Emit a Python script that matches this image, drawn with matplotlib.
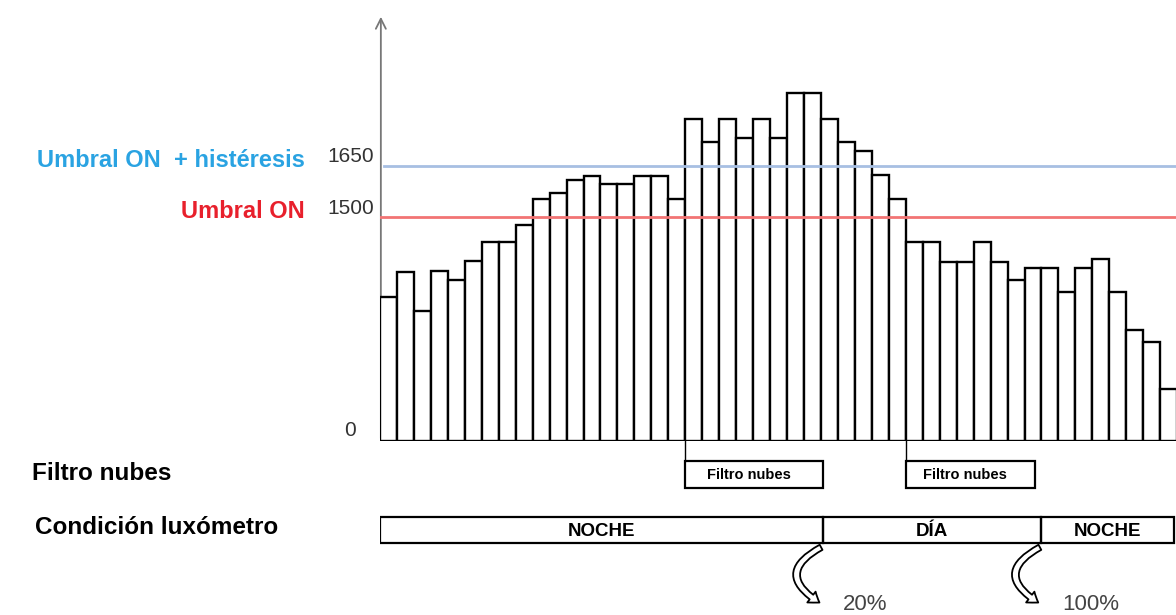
import matplotlib.pyplot as plt
from matplotlib.patches import Rectangle, FancyArrowPatch
from matplotlib.transforms import ScaledTranslation

# nivel de luz de cada muestra (altura relativa, 0 = base)
luz = [144, 169, 130, 170, 161, 180, 199, 199, 216, 242, 248, 261, 265, 257, 257, 265, 265, 242,
       322, 299, 322, 303, 322, 303, 348, 348, 322, 299, 290, 266, 242,
       199, 199, 179, 179, 199, 179, 161, 173, 173, 149, 173, 182, 149, 111, 99, 52]
umbral_on = 224
umbral_hist = 275
tick_vals = [0, umbral_on, umbral_hist]
tick_labels = ["0", "1500", "1650"]

# filtro de nubes: borde de la muestra donde empieza, y su ancho en muestras
filtro_inicio = [17.5, 30.5]
filtro_ancho = [8.1, 7.6]

# condicion del luxometro por tramos
cond_labels = ["NOCHE", "DÍA", "NOCHE"]
cond_bordes = [-0.5, 25.6, 38.5, 46.3]
cambio_labels = ["20%", "100%"]

W, H = 1176, 615
fig = plt.figure(figsize=(W / 100, H / 100), dpi=100)
plt.rcParams["font.family"] = ["Liberation Sans", "DejaVu Sans"]

# grafico principal
ax = fig.add_axes([380 / W, (H - 441) / H, 796 / W, 441 / H])
x = list(range(len(luz)))
ax.bar(x, luz, width=1.0, color="white", edgecolor="black", linewidth=1.7, zorder=2)
ax.axhline(umbral_hist, xmin=0.005, color="#a7bfe2", lw=2, zorder=3)
ax.axhline(umbral_on, xmin=0.0, color="#f27474", lw=2, zorder=3)
ax.set_xlim(-0.5, 46.43)
ax.set_ylim(0, 441)
for s in ax.spines.values():
    s.set_visible(False)
ax.set_xticks([])
ax.set_yticks(tick_vals)
ax.set_yticklabels(tick_labels, fontsize=15, color="#333333")
ax.tick_params(axis="y", length=0, pad=4)
offsets = [(-19, 12), (0, 11), (0, 11)]
for lab, (dx, dy) in zip(ax.get_yticklabels(), offsets):
    lab.set_transform(lab.get_transform() + ScaledTranslation(dx / 100, dy / 100, fig.dpi_scale_trans))
ax.annotate("", xy=(-0.45, 427), xytext=(-0.45, 0),
            arrowprops=dict(arrowstyle="->", color="#777777", lw=1.3, mutation_scale=18), zorder=1)

# textos de la izquierda
fig.text(305 / W, 1 - 161 / H, "Umbral ON  + histéresis", color="#2aa3e2", fontsize=17,
         fontweight="bold", ha="right", va="center")
fig.text(305 / W, 1 - 212 / H, "Umbral ON", color="#e8202c", fontsize=17,
         fontweight="bold", ha="right", va="center")
fig.text(32 / W, 1 - 474 / H, "Filtro nubes", fontsize=17.5, fontweight="bold", va="center")
fig.text(35 / W, 1 - 528 / H, "Condición luxómetro", fontsize=17.5, fontweight="bold", va="center")

# parte inferior (y en pixeles, hacia abajo)
ax2 = fig.add_axes([380 / W, 0, 796 / W, (H - 441) / H])
ax2.set_xlim(ax.get_xlim())
ax2.set_ylim(615, 441)
ax2.axis("off")

for x0, w in zip(filtro_inicio, filtro_ancho):
    ax2.plot([x0, x0], [441, 461], color="black", lw=1)
    ax2.add_patch(Rectangle((x0, 461), w, 27, fill=False, ec="black", lw=1.6))
    ax2.text(x0 + w / 2 - 0.3, 475, "Filtro nubes", ha="center", va="center",
             fontsize=10.5, fontweight="bold")

for i, lab in enumerate(cond_labels):
    a, b = cond_bordes[i], cond_bordes[i + 1]
    ax2.add_patch(Rectangle((a, 517), b - a, 26, fill=False, ec="black", lw=1.6))
    ax2.text((a + b) / 2, 531, lab, ha="center", va="center", fontsize=13.5, fontweight="bold")

for xb, lab in zip(cond_bordes[1:3], cambio_labels):
    arr = FancyArrowPatch((xb + 0.05, 546), (xb - 0.05, 604), connectionstyle="arc3,rad=0.9",
                          arrowstyle="simple,head_length=0.5,head_width=0.7,tail_width=0.3",
                          mutation_scale=14, fc="white", ec="black", lw=1.3)
    ax2.add_patch(arr)
    ax2.text(xb + 1.2, 604, lab, ha="left", va="center", fontsize=16, color="#444444")

fig.savefig("out.png", dpi=100)
